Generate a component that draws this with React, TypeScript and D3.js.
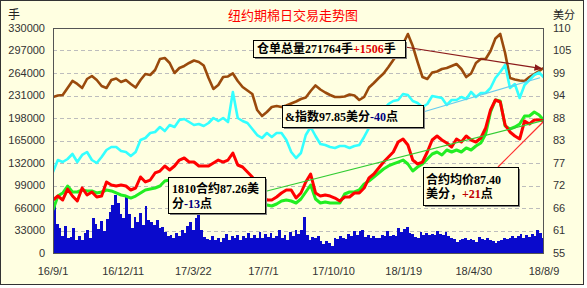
import React from 'react';
import * as d3 from 'd3';

// ---------- data ----------
const startDate = new Date(2016, 8, 1);
const endDate = new Date(2018, 7, 9);

const xTickLabels = ['16/9/1', '16/12/11', '17/3/22', '17/7/1', '17/10/10', '18/1/19', '18/4/30', '18/8/9'];
const leftTickValues = [0, 33000, 66000, 99000, 132000, 165000, 198000, 231000, 264000, 297000, 330000];
const leftTickLabels = ['0', '33000', '66000', '99000', '132000', '165000', '198000', '231000', '264000', '297000', '330000'];
const rightTickValues = [55, 60.5, 66, 71.5, 77, 82.5, 88, 93.5, 99, 104.5, 110];
const rightTickLabels = ['55', '61', '66', '72', '77', '83', '88', '94', '99', '105', '110'];

// weekly samples (every 7 days from 2016-09-01, last = 2018-08-09)
const receipts = [
  228800, 231000, 231700, 242000, 252300, 247900, 242000, 255200, 259600, 253700,
  244900, 242000, 253700, 255900, 250800, 253700, 247900, 242700, 253700, 262500,
  261100, 268400, 284500, 286000, 278700, 264000, 271300, 274300, 278700, 282300,
  280100, 275000, 256700, 240500, 246400, 258100, 258900, 263300, 252300, 243500,
  238300, 233200, 209700, 200900, 206800, 214100, 215600, 214100, 216300, 219300,
  222200, 225900, 228100, 237600, 245700, 239800, 235400, 231700, 228800, 228800,
  229500, 232500, 231000, 224400, 228800, 242700, 249300, 256700, 263300, 272800,
  283100, 293300, 306500, 321200, 303600, 280100, 258100, 255200, 264700, 266200,
  269900, 271300, 274300, 277200, 269900, 258100, 263300, 278700, 284500, 284500,
  296300, 314600, 321200, 293300, 256700, 254500, 253000, 252300, 258100, 262500,
  266900, 271764,
];
const indexPrice = [
  74.80, 77.73, 77.24, 77.98, 79.20, 77.24, 78.96, 79.69, 77.73, 77.00,
  78.47, 80.18, 80.91, 80.91, 79.93, 79.69, 78.71, 79.69, 82.62, 83.11,
  84.33, 84.58, 85.80, 84.82, 86.29, 85.80, 87.51, 87.76, 87.02, 86.29,
  86.53, 86.04, 86.78, 88.00, 87.27, 88.00, 87.02, 94.36, 88.00, 87.27,
  86.78, 85.31, 83.84, 83.11, 84.33, 83.36, 84.33, 84.33, 82.62, 79.69,
  78.22, 79.44, 83.84, 85.80, 83.60, 81.64, 81.40, 80.91, 80.67, 81.16,
  81.16, 80.67, 81.16, 81.40, 83.36, 85.56, 87.27, 88.73, 89.96, 91.42,
  92.16, 92.40, 93.87, 93.62, 92.16, 91.67, 90.69, 91.42, 93.38, 93.13,
  92.89, 91.18, 92.40, 92.40, 93.13, 92.64, 94.36, 93.13, 94.11, 94.11,
  95.33, 97.78, 99.24, 100.96, 95.33, 96.31, 92.89, 96.07, 97.29, 98.51,
  99.12, 97.85,
];
const contract1810 = [
  67.96, 68.93, 67.96, 70.64, 68.93, 67.71, 70.89, 69.18, 69.91, 68.69,
  68.93, 72.36, 71.62, 71.38, 71.62, 71.38, 70.40, 70.89, 73.58, 72.36,
  72.84, 74.56, 75.04, 76.27, 75.29, 76.27, 77.73, 78.22, 77.24, 77.24,
  76.27, 76.27, 76.27, 77.00, 77.73, 77.24, 77.73, 79.44, 76.51, 76.02,
  74.80, 73.58, 71.38, 69.42, 67.96, 67.96, 68.69, 69.67, 70.40, 70.40,
  68.44, 69.67, 72.36, 74.31, 69.67, 68.93, 69.18, 68.93, 68.44, 67.71,
  68.69, 68.69, 69.67, 69.67, 70.89, 73.33, 74.31, 75.78, 77.24, 78.47,
  79.69, 82.13, 82.87, 81.40, 77.73, 76.76, 77.24, 79.69, 82.62, 83.60,
  82.62, 81.89, 80.91, 82.87, 82.13, 83.60, 82.62, 82.13, 83.11, 85.56,
  89.96, 92.40, 91.91, 86.29, 84.58, 83.60, 82.87, 87.27, 86.53, 87.51,
  87.51, 87.26,
];
const avgPrice = [
  65.51, 68.93, 69.67, 71.38, 69.91, 69.91, 70.40, 70.16, 70.16, 69.67,
  69.91, 70.40, 70.16, 69.67, 69.18, 68.93, 68.44, 68.93, 69.67, 70.40,
  70.64, 70.89, 71.38, 72.60, 72.84, 72.84, 72.60, 72.36, 72.11, 71.62,
  71.38, 71.13, 70.89, 70.89, 70.64, 70.40, 70.64, 70.40, 69.91, 69.42,
  68.93, 68.44, 67.96, 67.22, 66.73, 66.49, 66.98, 67.71, 67.96, 67.71,
  67.22, 68.20, 69.91, 71.62, 68.20, 67.22, 67.47, 67.22, 67.22, 67.22,
  69.42, 69.91, 69.91, 70.40, 71.87, 72.60, 73.58, 74.56, 75.53, 76.27,
  76.76, 77.24, 77.73, 76.76, 75.04, 76.02, 76.76, 77.98, 79.20, 79.69,
  78.96, 80.18, 79.69, 80.18, 79.69, 80.67, 80.18, 81.16, 81.89, 84.09,
  89.47, 92.40, 92.16, 86.04, 85.31, 85.80, 86.53, 88.49, 88.49, 89.47,
  88.73, 87.40,
];
// volume, every 4 days from 2016-09-01
const volume = [
  70400, 42500, 36700, 24900, 39600, 22000, 23500, 36700, 19100, 24900,
  19100, 29300, 33700, 22000, 51300, 42500, 35200, 46900, 32300, 49900,
  60100, 70400, 85100, 73300, 57200, 51300, 82100, 57200, 36700, 52800,
  45500, 58700, 41100, 68900, 48400, 45500, 41100, 48400, 36700, 38100,
  30800, 24900, 26400, 22000, 29300, 24900, 33700, 29300, 39600, 45500,
  33700, 51300, 61600, 33700, 23500, 20500, 19100, 24900, 19100, 22000,
  16100, 22000, 27900, 19100, 24900, 22000, 26400, 19100, 24900, 22000,
  29300, 22000, 26400, 22000, 30800, 22000, 27900, 23500, 29300, 22000,
  24900, 33700, 22000, 26400, 19100, 30800, 24900, 33700, 27900, 33700,
  52800, 26400, 19100, 23500, 22000, 24900, 17600, 13200, 17600, 14700,
  10300, 22000, 20500, 24900, 22000, 20500, 27900, 24900, 32300, 26400,
  32300, 33700, 23500, 26400, 22000, 24900, 22000, 22000, 26400, 24900,
  32300, 24900, 26400, 24900, 36700, 30800, 35200, 38100, 29300, 27900,
  23500, 22000, 30800, 26400, 29300, 26400, 27900, 26400, 32300, 27900,
  26400, 30800, 24900, 22000, 20500, 16100, 19100, 20500, 22000, 19100,
  20500, 19100, 16100, 23500, 20500, 19100, 22000, 19100, 17600, 14700,
  17600, 19100, 22000, 20500, 22000, 24900, 22000, 24900, 27900, 22000,
  26400, 23500, 27900, 24900, 33700, 29300, 22000,
];

// ---------- layout ----------
const PL = 53, PR = 544, PT = 28, PB = 253;
const BG = '#FFFFE1';
const CJK = "'Noto Sans CJK SC', 'Noto Sans', sans-serif";
const BOXFONT = "'Liberation Serif', 'Noto Sans CJK SC', serif";
const NUM = "'Liberation Sans', Arial, sans-serif";

const parseLabel = (s: string) => {
  const [yy, mm, dd] = s.split('/').map(Number);
  return new Date(2000 + yy, mm - 1, dd);
};

export default function App() {
  const x = d3.scaleTime().domain([startDate, endDate]).range([PL, PR]);
  const yL = d3.scaleLinear().domain([0, 330000]).range([PB, PT]);
  const yR = d3.scaleLinear().domain([55, 110]).range([PB, PT]);

  const lineDates = receipts.map((_, i) =>
    i === receipts.length - 1 ? endDate : d3.timeDay.offset(startDate, i * 7)
  );
  const volDates = volume.map((_, i) => d3.timeDay.offset(startDate, i * 4));

  const mk = (vals: number[], y: d3.ScaleLinear<number, number>) =>
    d3.line<number>()
      .x((_, i) => x(lineDates[i]))
      .y((v) => y(v))(vals) || '';

  const brownPath = mk(receipts, yL);
  const cyanPath = mk(indexPrice, yR);
  const redPath = mk(contract1810, yR);
  const greenPath = mk(avgPrice, yR);

  const last = receipts.length - 1;
  const endX = x(endDate);

  const trendBrown = { x1: 405, y1: 47, x2: endX - 2, y2: yL(receipts[last]) + 1 };
  const trendCyan = { x1: 423, y1: 112, x2: endX - 4, y2: yR(indexPrice[last]) };
  const trendGreen = { x1: 265, y1: 191.5, x2: endX, y2: yR(avgPrice[last]) };
  const trendRed = { x1: 498, y1: 167, x2: endX, y2: yR(contract1810[last]) };

  const box = (bx: number, by: number, bw: number, bh: number) => (
    <g>
      <rect x={bx + 2} y={by + 2} width={bw} height={bh} fill="#808080" />
      <rect x={bx + 0.5} y={by + 0.5} width={bw} height={bh} fill={BG} stroke="#000" strokeWidth={1} />
    </g>
  );

  const bt = { fontFamily: BOXFONT, fontWeight: 700, fontSize: 12, fill: '#000' } as const;

  return (
    <div style={{ position: 'fixed', left: 0, top: 0 }}>
      <svg width={587} height={288} style={{ display: 'block', background: '#fff' }}>
        <defs>
          <clipPath id="plot">
            <rect x={PL} y={PT} width={PR - PL} height={PB - PT} />
          </clipPath>
          <marker id="arr" viewBox="0 0 10 10" refX="9" refY="5" markerWidth="7" markerHeight="7" orient="auto">
            <path d="M0,1 L10,5 L0,9 z" fill="#8B1A1A" />
          </marker>
        </defs>

        <rect x={0.5} y={0.5} width={583} height={284} fill={BG} stroke="#333" strokeWidth={1} />

        {/* title & units */}
        <text x={293} y={20} textAnchor="middle" fontFamily={CJK} fontSize={13} fill="#FF0000">纽约期棉日交易走势图</text>
        <text x={8} y={19} fontFamily={CJK} fontSize={12} fill="#222">手</text>
        <text x={553} y={19} fontFamily={CJK} fontSize={11} fill="#222">美分</text>

        {/* plot background & grid */}
        <rect x={PL} y={PT} width={PR - PL} height={PB - PT} fill={BG} />
        {leftTickValues.slice(1, -1).map((v) => (
          <line key={v} x1={PL} x2={PR} y1={Math.round(yL(v)) + 0.5} y2={Math.round(yL(v)) + 0.5}
            stroke="#BDBDBD" strokeDasharray="4,3" strokeWidth={1} />
        ))}

        <g clipPath="url(#plot)">
          {/* volume bars */}
          <g shapeRendering="crispEdges">
            {volume.map((v, i) => {
              const x0 = Math.round(x(volDates[i]));
              const x1 = Math.min(Math.round(x(d3.timeDay.offset(volDates[i], 4))), PR);
              return <rect key={i} x={x0} y={Math.round(yL(v))} width={Math.max(0, x1 - x0)}
                height={PB - Math.round(yL(v))} fill="#0A0ACC" />;
            })}
          </g>

          <path d={brownPath} fill="none" stroke="#9A4A0C" strokeWidth={2.6} strokeLinejoin="round" />
          <path d={cyanPath} fill="none" stroke="#33FFFF" strokeWidth={2.6} strokeLinejoin="round" />
          <path d={greenPath} fill="none" stroke="#22EE22" strokeWidth={3} strokeLinejoin="round" />
          <path d={redPath} fill="none" stroke="#FF0000" strokeWidth={3} strokeLinejoin="round" />

          <line {...trendGreen} stroke="#33CC33" strokeWidth={1.2} />
          <line {...trendRed} stroke="#FF3030" strokeWidth={1.2} />
          <line {...trendCyan} stroke="#66CCEE" strokeWidth={1.2} />
          <line {...trendBrown} stroke="#8B1A1A" strokeWidth={1.2} markerEnd="url(#arr)" />
        </g>

        <rect x={PL + 0.5} y={PT + 0.5} width={PR - PL - 1} height={PB - PT} fill="none" stroke="#555" strokeWidth={1} />

        {/* left axis labels */}
        {leftTickValues.map((v, i) => (
          <text key={v} x={45} y={yL(v) + 1} textAnchor="end" dominantBaseline="middle"
            fontFamily={NUM} fontSize={11} fill="#333">{leftTickLabels[i]}</text>
        ))}
        {/* right axis labels */}
        {rightTickValues.map((v, i) => (
          <text key={v} x={553} y={yR(v) + 1} dominantBaseline="middle"
            fontFamily={NUM} fontSize={11} fill="#333">{rightTickLabels[i]}</text>
        ))}
        {/* x labels */}
        {xTickLabels.map((s) => (
          <text key={s} x={x(parseLabel(s))} y={275} textAnchor="middle"
            fontFamily={NUM} fontSize={11} fill="#333">{s}</text>
        ))}

        {/* annotation boxes */}
        {box(253, 40, 152, 17)}
        <text x={257} y={53} {...bt}>仓单总量271764手<tspan fill="#E00000">+1506</tspan>手</text>

        {box(282, 105, 141, 22)}
        <text x={285} y={121} {...bt}>&amp;指数97.85美分<tspan fill="#000080">-40</tspan>点</text>

        {box(168, 177, 97, 36)}
        <text x={172} y={193} {...bt}>1810合约87.26美</text>
        <text x={172} y={208} {...bt}>分<tspan fill="#000080">-13</tspan>点</text>

        {box(423, 167, 95, 38)}
        <text x={426} y={184} {...bt}>合约均价87.40</text>
        <text x={426} y={198} {...bt}>美分，<tspan fill="#C00000">+21</tspan>点</text>
      </svg>
    </div>
  );
}
